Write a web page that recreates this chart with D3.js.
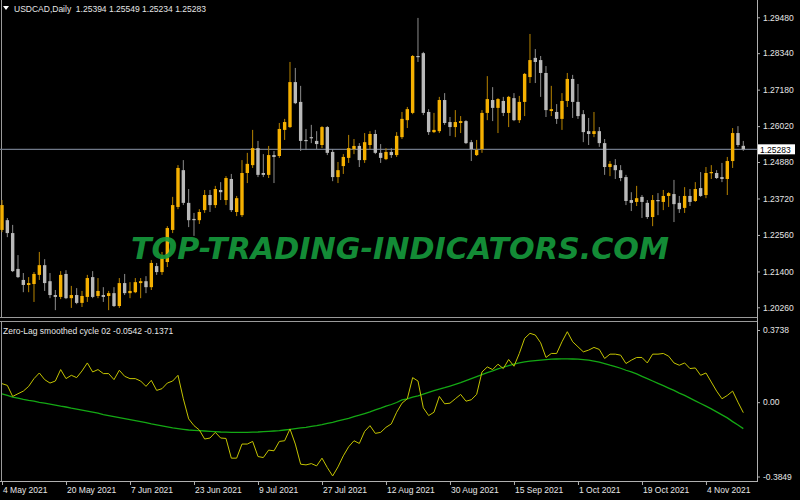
<!DOCTYPE html>
<html><head><meta charset="utf-8">
<script src="https://cdn.jsdelivr.net/npm/d3@7"></script>
<style>body{margin:0;background:#000;} svg{display:block;}</style>
</head><body><svg id="c" width="800" height="500"></svg>
<script>
const symbolTitle = "USDCAD,Daily";
const lastBar = [1.25394, 1.25549, 1.25234, 1.25283];
const startDate = [2021, 4, 4];
const endDate = [2021, 10, 15];
const open = [1.2272,1.2303,1.2262,1.2148,1.2113,1.2097,1.2100,1.2129,1.2160,1.2109,
1.2065,1.2059,1.2132,1.2055,1.2065,1.2040,1.2059,1.2122,1.2062,1.2065,
1.2062,1.2071,1.2030,1.2103,1.2071,1.2074,1.2103,1.2109,1.2090,1.2157,
1.2138,1.2170,1.2272,1.2345,1.2462,1.2358,1.2307,1.2303,1.2335,1.2383,
1.2351,1.2399,1.2367,1.2434,1.2329,1.2319,1.2453,1.2478,1.2532,1.2453,
1.2447,1.2510,1.2507,1.2590,1.2599,1.2742,1.2679,1.2558,1.2567,1.2555,
1.2542,1.2599,1.2520,1.2440,1.2475,1.2501,1.2529,1.2539,1.2494,1.2542,
1.2577,1.2517,1.2497,1.2520,1.2510,1.2567,1.2621,1.2644,1.2825,1.2834,
1.2647,1.2583,1.2586,1.2685,1.2615,1.2599,1.2612,1.2618,1.2551,1.2510,
1.2529,1.2644,1.2685,1.2660,1.2682,1.2644,1.2691,1.2621,1.2679,1.2758,
1.2819,1.2812,1.2771,1.2650,1.2647,1.2625,1.2682,1.2752,1.2679,1.2640,
1.2586,1.2577,1.2586,1.2548,1.2472,1.2478,1.2462,1.2440,1.2367,1.2361,
1.2377,1.2358,1.2313,1.2367,1.2361,1.2380,1.2386,1.2358,1.2342,1.2380,
1.2364,1.2405,1.2383,1.2453,1.2453,1.2440,1.2434,1.2491,1.2580,1.25394];
const high = [1.2367,1.2310,1.2288,1.2192,1.2135,1.2122,1.2138,1.2202,1.2179,1.2135,
1.2081,1.2141,1.2144,1.2094,1.2087,1.2078,1.2129,1.2141,1.2119,1.2090,
1.2078,1.2090,1.2119,1.2132,1.2106,1.2119,1.2119,1.2125,1.2176,1.2167,
1.2202,1.2284,1.2377,1.2478,1.2494,1.2402,1.2326,1.2338,1.2399,1.2399,
1.2412,1.2424,1.2443,1.2450,1.2380,1.2494,1.2517,1.2590,1.2555,1.2513,
1.2539,1.2523,1.2612,1.2625,1.2806,1.2787,1.2730,1.2593,1.2606,1.2586,
1.2602,1.2602,1.2529,1.2488,1.2513,1.2574,1.2561,1.2548,1.2580,1.2586,
1.2590,1.2545,1.2532,1.2532,1.2583,1.2647,1.2663,1.2828,1.2946,1.2838,
1.2656,1.2644,1.2695,1.2707,1.2631,1.2653,1.2634,1.2621,1.2558,1.2558,
1.2653,1.2761,1.2726,1.2691,1.2695,1.2698,1.2707,1.2698,1.2771,1.2895,
1.2847,1.2825,1.2793,1.2730,1.2672,1.2707,1.2771,1.2765,1.2736,1.2653,
1.2628,1.2647,1.2599,1.2561,1.2491,1.2497,1.2478,1.2447,1.2392,1.2412,
1.2383,1.2367,1.2383,1.2389,1.2399,1.2392,1.2431,1.2380,1.2408,1.2402,
1.2424,1.2456,1.2472,1.2478,1.2462,1.2485,1.2504,1.2596,1.2602,1.25549];
const low = [1.2265,1.2249,1.2138,1.2119,1.2074,1.2074,1.2043,1.2113,1.2078,1.2055,
1.2017,1.2052,1.2052,1.2024,1.2036,1.2027,1.2043,1.2055,1.2055,1.2043,
1.2017,1.2027,1.2024,1.2065,1.2055,1.2071,1.2055,1.2071,1.2081,1.2129,
1.2129,1.2154,1.2262,1.2338,1.2351,1.2281,1.2253,1.2291,1.2326,1.2329,
1.2342,1.2367,1.2351,1.2329,1.2316,1.2313,1.2421,1.2469,1.2440,1.2440,
1.2437,1.2421,1.2501,1.2558,1.2596,1.2672,1.2523,1.2526,1.2548,1.2529,
1.2532,1.2510,1.2427,1.2421,1.2450,1.2485,1.2513,1.2472,1.2485,1.2529,
1.2513,1.2485,1.2494,1.2501,1.2504,1.2561,1.2596,1.2640,1.2806,1.2637,
1.2574,1.2580,1.2580,1.2606,1.2571,1.2567,1.2580,1.2545,1.2491,1.2507,
1.2517,1.2621,1.2618,1.2580,1.2634,1.2599,1.2618,1.2612,1.2634,1.2739,
1.2739,1.2695,1.2631,1.2634,1.2609,1.2590,1.2663,1.2628,1.2625,1.2551,
1.2542,1.2567,1.2536,1.2447,1.2443,1.2434,1.2427,1.2351,1.2332,1.2348,
1.2310,1.2307,1.2284,1.2319,1.2335,1.2345,1.2297,1.2326,1.2326,1.2348,
1.2361,1.2377,1.2373,1.2434,1.2434,1.2424,1.2383,1.2469,1.2536,1.25234];
const close = [1.2351,1.2262,1.2141,1.2122,1.2097,1.2103,1.2132,1.2160,1.2103,1.2065,
1.2059,1.2129,1.2055,1.2065,1.2040,1.2062,1.2119,1.2059,1.2078,1.2059,
1.2071,1.2030,1.2103,1.2071,1.2078,1.2106,1.2109,1.2090,1.2167,1.2138,
1.2183,1.2278,1.2351,1.2469,1.2358,1.2303,1.2303,1.2329,1.2383,1.2351,
1.2402,1.2392,1.2437,1.2335,1.2373,1.2453,1.2482,1.2532,1.2447,1.2447,
1.2510,1.2504,1.2593,1.2615,1.2742,1.2675,1.2555,1.2555,1.2564,1.2545,
1.2599,1.2517,1.2440,1.2462,1.2504,1.2532,1.2539,1.2494,1.2551,1.2577,
1.2517,1.2501,1.2520,1.2510,1.2571,1.2625,1.2656,1.2825,1.2822,1.2644,
1.2583,1.2590,1.2685,1.2612,1.2599,1.2615,1.2618,1.2548,1.2529,1.2526,
1.2644,1.2688,1.2660,1.2688,1.2644,1.2695,1.2621,1.2679,1.2768,1.2812,
1.2806,1.2771,1.2653,1.2656,1.2625,1.2682,1.2752,1.2679,1.2634,1.2583,
1.2577,1.2586,1.2548,1.2472,1.2482,1.2462,1.2437,1.2364,1.2358,1.2373,
1.2361,1.2313,1.2367,1.2364,1.2380,1.2389,1.2354,1.2338,1.2380,1.2361,
1.2402,1.2380,1.2453,1.2456,1.2437,1.2434,1.2491,1.2580,1.2542,1.25283];
const cycle = [0.0959,0.0871,0.0297,0.0438,0.0574,0.0819,0.1220,0.1512,0.1168,0.0991,
0.1095,0.1689,0.1220,0.1392,0.1272,0.1616,0.2033,0.1564,0.1689,0.1481,
0.1481,0.1168,0.1653,0.1340,0.1220,0.1220,0.1095,0.0819,0.1131,0.0610,
0.0699,0.0991,0.1095,0.1392,0.0177,-0.0865,-0.1215,-0.1439,-0.1908,-0.1856,
-0.1564,-0.1856,-0.1877,-0.2899,-0.2899,-0.2169,-0.2169,-0.2033,-0.2815,-0.2868,
-0.2482,-0.2518,-0.2033,-0.1997,-0.1387,-0.2169,-0.3212,-0.3248,-0.3180,-0.3300,
-0.2899,-0.3389,-0.3822,-0.3352,-0.2779,-0.2310,-0.1997,-0.2138,-0.1512,-0.1215,
-0.1616,-0.1564,-0.1303,-0.1126,-0.0521,-0.0052,0.0177,0.1272,0.1095,-0.0292,
-0.0693,-0.0521,0.0297,-0.0083,-0.0052,0.0177,0.0401,0.0052,0.0125,0.0401,
0.1564,0.1825,0.1689,0.1966,0.1741,0.2211,0.1861,0.2523,0.3306,0.3566,
0.3478,0.3076,0.2315,0.2523,0.2523,0.3128,0.3650,0.3128,0.2868,0.2607,
0.2696,0.2836,0.2732,0.2263,0.2487,0.2487,0.2435,0.2002,0.2174,0.2315,
0.2315,0.2033,0.2487,0.2487,0.2523,0.2383,0.2033,0.1913,0.2033,0.1741,
0.1773,0.1392,0.1512,0.1043,0.0574,0.0177,0.0349,0.0574,0.0000,-0.0542];
const smooth = [0.0436,0.0349,0.0262,0.0210,0.0141,0.0089,0.0054,-0.0007,-0.0050,-0.0103,
-0.0155,-0.0207,-0.0250,-0.0311,-0.0363,-0.0415,-0.0467,-0.0520,-0.0572,-0.0641,
-0.0693,-0.0746,-0.0798,-0.0850,-0.0902,-0.0954,-0.1006,-0.1058,-0.1128,-0.1180,
-0.1232,-0.1284,-0.1336,-0.1371,-0.1406,-0.1441,-0.1458,-0.1476,-0.1493,-0.1510,
-0.1528,-0.1545,-0.1554,-0.1562,-0.1562,-0.1562,-0.1562,-0.1554,-0.1545,-0.1528,
-0.1510,-0.1493,-0.1476,-0.1441,-0.1406,-0.1371,-0.1336,-0.1302,-0.1258,-0.1215,
-0.1163,-0.1093,-0.1041,-0.0972,-0.0902,-0.0833,-0.0746,-0.0676,-0.0589,-0.0502,
-0.0398,-0.0311,-0.0207,-0.0120,-0.0016,0.0123,0.0176,0.0262,0.0332,0.0419,
0.0506,0.0593,0.0680,0.0749,0.0836,0.0923,0.1010,0.1114,0.1218,0.1323,
0.1427,0.1531,0.1618,0.1722,0.1809,0.1896,0.1966,0.2035,0.2087,0.2122,
0.2157,0.2183,0.2209,0.2226,0.2235,0.2244,0.2244,0.2235,0.2226,0.2209,
0.2174,0.2122,0.2070,0.2000,0.1913,0.1844,0.1757,0.1653,0.1566,0.1462,
0.1340,0.1218,0.1097,0.0975,0.0853,0.0732,0.0610,0.0471,0.0349,0.0210,
0.0071,-0.0068,-0.0207,-0.0346,-0.0502,-0.0658,-0.0815,-0.1006,-0.1180,-0.1371];
const priceTicks = [1.29480,1.28340,1.27180,1.26020,1.24880,1.23720,1.22560,1.21400,1.20260];
const priceTickRange = [1.29480, 1.20260];
const cycleTicks = [0.3738, 0, -0.3849];
const cycleTickLabels = ["0.3738", "0.00", "-0.3849"];
const dateTickLabels = ["4 May 2021","20 May 2021","7 Jun 2021","23 Jun 2021","9 Jul 2021","27 Jul 2021",
"12 Aug 2021","30 Aug 2021","15 Sep 2021","1 Oct 2021","19 Oct 2021","4 Nov 2021"];
const indicatorName = "Zero-Lag smoothed cycle 02";
const watermark = "TOP-TRADING-INDICATORS.COM";

const FONT = "'Liberation Sans', Arial, sans-serif";
const svg = d3.select("#c");
svg.append("rect").attr("width",800).attr("height",500).attr("fill","#000");

const dates = d3.timeDay.range(new Date(...startDate), d3.timeDay.offset(new Date(...endDate),1))
  .filter(d => d.getDay() !== 0 && d.getDay() !== 6);
const N = dates.length;
const fmtDate = d3.timeFormat("%-d %b %Y");
const fmt4 = v => d3.format(".4f")(v).replace("\u2212", "-");

const x = d3.scalePoint().domain(d3.range(N)).range([2, 743.3]);
const y = d3.scaleLinear().domain(priceTickRange).range([17.3, 307.3]);
const y2 = d3.scaleLinear().domain([cycleTicks[0], cycleTicks[2]]).range([330, 476.5]);

const AXX = 757;
// pane frames
const frame = svg.append("g").attr("stroke","#9a9a9a").attr("fill","none");
frame.append("line").attr("x1",1.5).attr("x2",1.5).attr("y1",0).attr("y2",317);
frame.append("line").attr("x1",0).attr("x2",AXX).attr("y1",317.5).attr("y2",317.5);
frame.append("line").attr("x1",0).attr("x2",AXX).attr("y1",321.5).attr("y2",321.5);
frame.append("line").attr("x1",1.5).attr("x2",1.5).attr("y1",321).attr("y2",481);

// bid line
svg.append("line").attr("x1",0).attr("x2",AXX).attr("y1",y(lastBar[3])).attr("y2",y(lastBar[3]))
  .attr("stroke","#6f7888").attr("stroke-width",1.2);

// candles
const bars = d3.range(N).map(i => ({i, o:open[i], h:high[i], l:low[i], c:close[i]}));
const cg = svg.append("g");
cg.selectAll("line.w").data(bars).join("line")
  .attr("x1", d => x(d.i)).attr("x2", d => x(d.i))
  .attr("y1", d => y(d.h)).attr("y2", d => y(d.l))
  .attr("stroke", d => d.c >= d.o ? "#b88400" : "#8c8c8c").attr("stroke-width",1);
cg.selectAll("rect.b").data(bars).join("rect")
  .attr("x", d => x(d.i) - 1.7).attr("width", 3.4)
  .attr("y", d => y(Math.max(d.o,d.c)))
  .attr("height", d => Math.max(1.2, Math.abs(y(d.o) - y(d.c))))
  .attr("fill", d => d.c >= d.o ? "#f5b000" : "#b9b9b9");

// watermark
svg.append("text").attr("x",131).attr("y",259).text(watermark)
  .attr("font-family","'DejaVu Sans', sans-serif").attr("font-weight","bold").attr("font-style","italic")
  .attr("font-size",30).attr("textLength",538).attr("lengthAdjust","spacingAndGlyphs")
  .attr("fill","#169a3c").attr("fill-opacity",0.92);

// indicator lines
const line2 = d3.line().x((d,i) => x(i)).y(d => y2(d));
svg.append("path").datum(smooth).attr("d", line2).attr("fill","none").attr("stroke","#14a814").attr("stroke-width",1.3);
svg.append("path").datum(cycle).attr("d", line2).attr("fill","none").attr("stroke","#c4c400").attr("stroke-width",1);

// right price axis
const axR = svg.append("g").attr("transform",`translate(${AXX},0)`)
  .call(d3.axisRight(y).tickValues(priceTicks).tickSize(3).tickPadding(3).tickFormat(d3.format(".5f")));
axR.select(".domain").remove();
const axR2 = svg.append("g").attr("transform",`translate(${AXX},0)`)
  .call(d3.axisRight(y2).tickValues(cycleTicks).tickSize(3).tickPadding(3).tickFormat((d,i) => cycleTickLabels[i]));
axR2.select(".domain").remove();
[axR, axR2].forEach(a => {
  a.selectAll("line").attr("stroke","#b0b0b0");
  a.selectAll("text").attr("fill","#e6e6e6").attr("font-family",FONT).attr("font-size","8.5px");
});
svg.append("line").attr("x1",AXX+0.5).attr("x2",AXX+0.5).attr("y1",0).attr("y2",481.5).attr("stroke","#b0b0b0");

// bottom date axis
const tickIdx = d3.range(N).filter(i => dateTickLabels.includes(fmtDate(dates[i])));
const axB = svg.append("g").attr("transform","translate(0,481)")
  .call(d3.axisBottom(x).tickValues(tickIdx).tickSize(4).tickPadding(2).tickFormat(i => fmtDate(dates[i])));
axB.select(".domain").remove();
axB.selectAll("line").attr("stroke","#b0b0b0");
axB.selectAll("text").attr("fill","#e6e6e6").attr("font-family",FONT).attr("font-size","8.5px")
  .attr("text-anchor","start").attr("dx","0.5");
svg.append("line").attr("x1",0).attr("x2",AXX+1).attr("y1",481.5).attr("y2",481.5).attr("stroke","#b0b0b0");

// current price label
const py = y(lastBar[3]);
svg.append("rect").attr("x",758).attr("y",py-5).attr("width",37).attr("height",10).attr("fill","#fff");
svg.append("text").attr("x",760).attr("y",py+3.2).text(d3.format(".5f")(lastBar[3]))
  .attr("fill","#000").attr("font-family",FONT).attr("font-size","8.5px");

// titles
svg.append("path").attr("d","M3,6 L9,6 L6,10 Z").attr("fill","#fff");
svg.append("text").attr("x",14).attr("y",12)
  .text(symbolTitle + "  " + lastBar.map(d3.format(".5f")).join(" "))
  .attr("fill","#e6e6e6").attr("font-family",FONT).attr("font-size","8.5px").attr("xml:space","preserve");
svg.append("text").attr("x",3).attr("y",334)
  .text(indicatorName + " " + fmt4(cycle[N-1]) + " " + fmt4(smooth[N-1]))
  .attr("fill","#e6e6e6").attr("font-family",FONT).attr("font-size","8.5px");
</script></body></html>
